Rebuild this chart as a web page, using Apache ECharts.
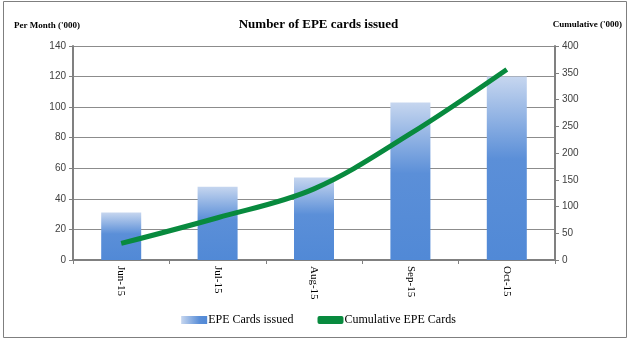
<!DOCTYPE html>
<html><head><meta charset="utf-8">
<script src="https://cdn.jsdelivr.net/npm/echarts@6/dist/echarts.min.js"></script>
<style>html,body{margin:0;padding:0;background:#fff}#c{width:637px;height:345px}</style>
</head><body><div id="c"></div>
<script>
var categories = ['Jun-15','Jul-15','Aug-15','Sep-15','Oct-15'];
var monthly = [31, 48, 54, 103, 120];
var cumulative = [31, 79, 133, 236, 356];
var leftTicks = {min:0, max:140, interval:20};
var rightTicks = {min:0, max:400, interval:50};

var chart = echarts.init(document.getElementById('c'));
var serif = 'Liberation Serif';
var axisLabelStyle = {color:'#404040', fontFamily:'Liberation Sans', fontSize:10};
chart.setOption({
  animation:false,
  title:{text:'Number of EPE cards issued', left:'center', top:13,
    textStyle:{fontFamily:serif, fontWeight:'bold', fontSize:13, color:'#000'}},
  graphic:[
    {type:'rect', shape:{x:3.5,y:1.5,width:623,height:336}, style:{fill:'none', stroke:'#7f7f7f', lineWidth:1}},
    {type:'text', left:14, top:21, style:{text:"Per Month ('000)", font:'bold 9px "Liberation Serif"', fill:'#000'}},
    {type:'text', right:15, top:20, style:{text:"Cumulative ('000)", font:'bold 9px "Liberation Serif"', fill:'#000'}}
  ],
  legend:{bottom:14, left:'center', itemGap:24, itemWidth:26, itemHeight:8,
    textStyle:{fontFamily:serif, fontSize:12, color:'#000', padding:[0,0,0,-4]},
    data:[{name:'EPE Cards issued', icon:'rect', itemStyle:{color:new echarts.graphic.LinearGradient(0,0,1,0,[
        {offset:0,color:'#c6d6ef'},{offset:0.7,color:'#5b8fd8'},{offset:1,color:'#5189d6'}])}},
      {name:'Cumulative EPE Cards', icon:'roundRect', itemStyle:{color:'#088a3e'}}]},
  grid:{left:73, right:82, top:46, bottom:85},
  xAxis:{type:'category', data:categories, boundaryGap:true,
    axisLine:{lineStyle:{color:'#808080', width:2}},
    axisTick:{show:true, length:4, lineStyle:{color:'#808080'}},
    axisLabel:{rotate:-90, fontFamily:serif, fontSize:11, color:'#000', margin:6}},
  yAxis:[
    {type:'value', min:leftTicks.min, max:leftTicks.max, interval:leftTicks.interval,
     axisLine:{show:true, lineStyle:{color:'#808080', width:2}},
     axisTick:{show:true, length:4, lineStyle:{color:'#808080'}},
     splitLine:{lineStyle:{color:'#8c8c8c', width:1}},
     axisLabel:Object.assign({margin:7}, axisLabelStyle)},
    {type:'value', min:rightTicks.min, max:rightTicks.max, interval:rightTicks.interval,
     axisLine:{show:true, lineStyle:{color:'#808080', width:2}},
     axisTick:{show:true, length:4, lineStyle:{color:'#808080'}},
     splitLine:{show:false},
     axisLabel:Object.assign({margin:7}, axisLabelStyle)}
  ],
  series:[
    {name:'EPE Cards issued', type:'bar', data:monthly, barWidth:40, yAxisIndex:0,
     itemStyle:{color:new echarts.graphic.LinearGradient(0,0,0,1,[
       {offset:0,color:'#c6d6ef'},{offset:0.45,color:'#5b8fd8'},{offset:1,color:'#5189d6'}])}},
    {name:'Cumulative EPE Cards', type:'line', data:cumulative, yAxisIndex:1, smooth:0.35,
     symbol:'none', lineStyle:{color:'#088a3e', width:5}, itemStyle:{color:'#088a3e'}}
  ]
});
</script></body></html>
